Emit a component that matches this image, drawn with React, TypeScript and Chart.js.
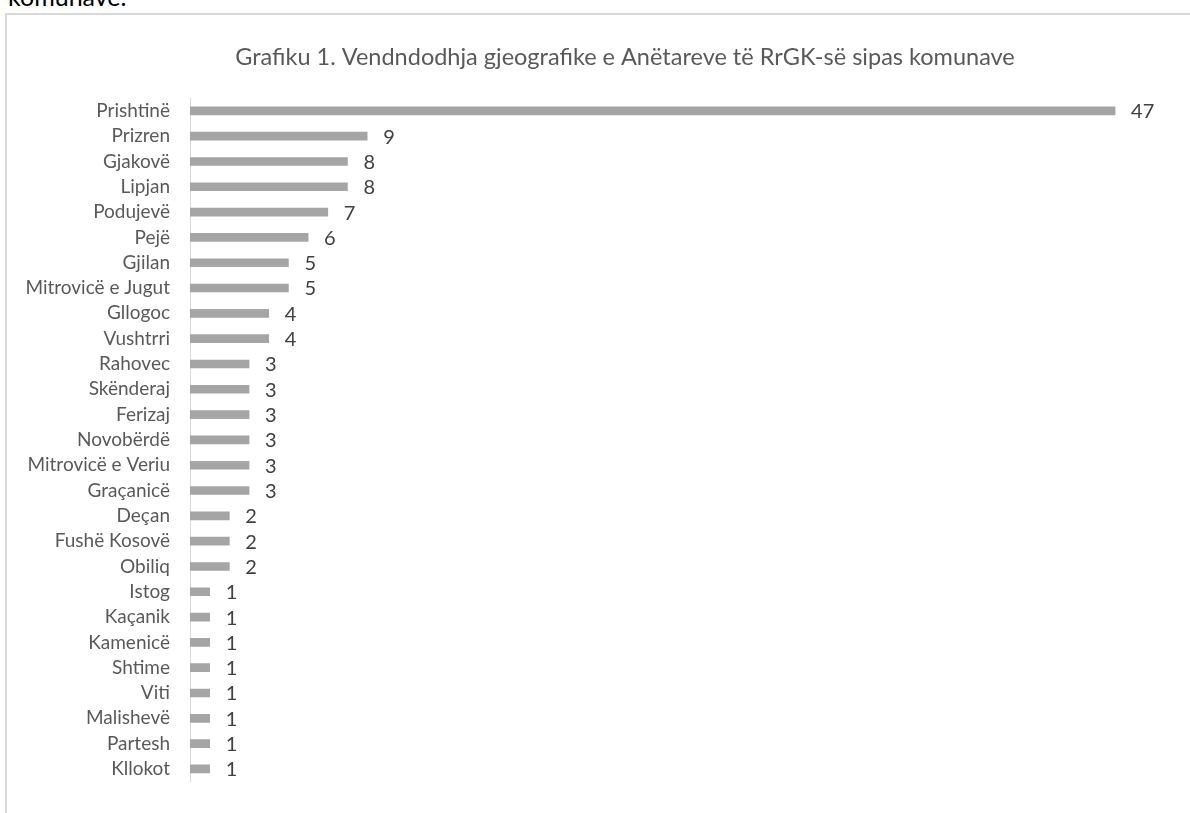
import React, { useEffect, useRef } from "react";
import { Chart, registerables } from "chart.js";

Chart.register(...registerables);

const categories = [
  "Prishtinë", "Prizren", "Gjakovë", "Lipjan", "Podujevë", "Pejë", "Gjilan",
  "Mitrovicë e Jugut", "Gllogoc", "Vushtrri", "Rahovec", "Skënderaj", "Ferizaj",
  "Novobërdë", "Mitrovicë e Veriu", "Graçanicë", "Deçan", "Fushë Kosovë", "Obiliq",
  "Istog", "Kaçanik", "Kamenicë", "Shtime", "Viti", "Malishevë", "Partesh", "Kllokot",
];
const members = [47, 9, 8, 8, 7, 6, 5, 5, 4, 4, 3, 3, 3, 3, 3, 3, 2, 2, 2, 1, 1, 1, 1, 1, 1, 1, 1];
const titleText = "Grafiku 1. Vendndodhja gjeografike e Anëtareve të RrGK-së sipas komunave";

const FONT = "Lato, 'Open Sans', sans-serif";

const valueLabels = {
  id: "valueLabels",
  afterDatasetsDraw(chart: any) {
    const ctx = chart.ctx;
    const meta = chart.getDatasetMeta(0);
    ctx.save();
    ctx.font = `20px ${FONT}`;
    ctx.fillStyle = "#404040";
    ctx.textAlign = "left";
    ctx.textBaseline = "middle";
    meta.data.forEach((bar: any, i: number) => {
      ctx.fillText(String(members[i]), bar.x + 16, bar.y + 1);
    });
    ctx.restore();
  },
};

export default function App() {
  const ref = useRef<HTMLCanvasElement | null>(null);
  useEffect(() => {
    if (!ref.current) return;
    const chart = new Chart(ref.current, {
      type: "bar",
      data: {
        labels: categories,
        datasets: [
          {
            data: members,
            backgroundColor: "#a5a5a5",
            barThickness: 8,
          },
        ],
      },
      options: {
        indexAxis: "y",
        animation: false,
        responsive: false,
        maintainAspectRatio: false,
        layout: { padding: { left: 0, right: 0, top: 0, bottom: 19 } },
        plugins: {
          legend: { display: false },
          tooltip: { enabled: false },
          title: {
            display: true,
            text: titleText,
            color: "#595959",
            font: { family: FONT, size: 23.5, weight: "normal", lineHeight: 1.2 },
            padding: { top: 28, bottom: 27 },
          },
        },
        scales: {
          x: { display: false, min: 0, max: 53.5 },
          y: {
            afterFit: (scale: any) => {
              scale.width = 183;
            },
            grid: { display: false, drawTicks: false },
            border: { display: true, color: "#d9d9d9", width: 1 },
            ticks: {
              color: "#595959",
              font: { family: FONT, size: 19 },
              padding: 20,
              autoSkip: false,
            },
          },
        },
      },
      plugins: [valueLabels],
    });
    return () => chart.destroy();
  }, []);

  return (
    <div style={{ position: "absolute", left: 0, top: 0, width: 1190, height: 813, overflow: "hidden", background: "#fff" }}>
      <div style={{ position: "absolute", left: 8, top: -17, fontFamily: FONT, fontSize: 25, lineHeight: "26px", color: "#000" }}>
        komunave.
      </div>
      <div style={{ position: "absolute", left: 5, top: 13, width: 1250, height: 820, border: "2px solid #d9d9d9", boxSizing: "border-box" }} />
      <canvas ref={ref} width={1236} height={798} style={{ position: "absolute", left: 7, top: 15, width: 1236, height: 798 }} />
    </div>
  );
}
